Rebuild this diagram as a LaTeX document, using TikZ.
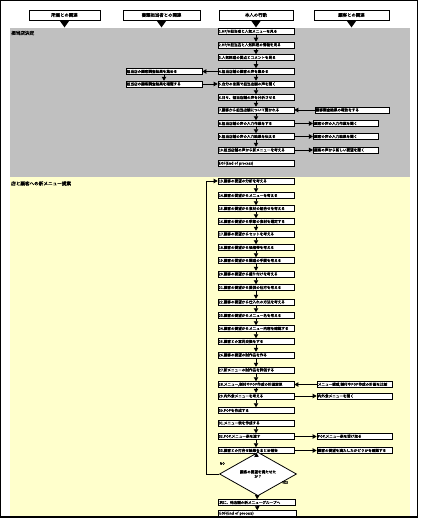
\documentclass[tikz,border=0pt]{standalone}
\usepackage{fontspec}
\newfontfamily\jp{Noto Sans CJK JP}
\newfontfamily\jpb[FakeBold=1.5]{Noto Sans CJK JP}
\usetikzlibrary{arrows.meta,shapes.geometric}
\definecolor{greyc}{RGB}{192,192,192}
\definecolor{yel}{RGB}{255,255,204}
\begin{document}
\begin{tikzpicture}[x=1pt,y=-1pt,
  bx/.style={draw,line width=0.7pt,fill=white,minimum height=5.8pt,inner xsep=0.8pt,inner ysep=0.3pt,
    font=\jpb\fontsize{3.6}{3.9}\selectfont,text width=#1,align=left},
  mbox/.style={bx=74.4pt},
  hbox/.style={draw,line width=0.8pt,fill=white,minimum height=10pt,minimum width=#1,inner sep=0.5pt,
    font=\jpb\fontsize{4.4}{5}\selectfont},
  arr/.style={-{Triangle[length=4pt,width=4.4pt]},line width=0.8pt},
  lbl/.style={anchor=west,inner sep=0pt,font=\jpb\fontsize{4.6}{5}\selectfont},
  small/.style={inner sep=0pt,font=\jpb\fontsize{3.4}{4}\selectfont}]
\useasboundingbox (0,0) rectangle (420,527);
\fill[white] (0,0) rectangle (420,527);
% backgrounds
\fill[greyc] (10,28) rectangle (410,177);
\fill[yel] (10,177) rectangle (410,516.5);
\draw[line width=1.2pt] (0.6,0.6) rectangle (417.5,517);
% headers
\node[hbox=71pt] (h1) at (64.5,15) {所属との関連};
\node[hbox=77pt] (h2) at (161.5,15) {書類担当者との関連};
\node[hbox=74pt] (h3) at (256,15) {本人の行動};
\node[hbox=75pt] (h4) at (351.5,15) {顧客との関連};
\foreach \h in {h1,h2,h3,h4}
  \fill (\h.south) ++(-5,0) -- ++(10,0) -- ++(-5,7) -- cycle;
% section labels
\node[lbl] (s1) at (11,33) {担当店決定};
\node[lbl] (s2) at (11,183.5) {店と顧客への新メニュー提案};
% grey main column
\node[mbox] (g1) at (256,31.5) {1.HP/H担当者と人気メニューを見る};
\node[mbox] (g2) at (256,45) {2.HP/H担当店と人気料理の情報を見る};
\node[mbox] (g3) at (256,57.5) {3.人気料理の要点とコメントを見る};
\node[mbox] (g4) at (256,71.5) {4.担当店舗の顧客の声を集める};
\node[mbox] (g5) at (256,84) {5.自分の言葉で担当店舗の声を聞く};
\node[mbox] (g6) at (256,97.5) {6.日々、担当店舗の声を分析させる};
\node[mbox] (g7) at (256,110) {7.顧客から担当店舗について聞かれる};
\node[mbox] (g8) at (256,123.5) {8.担当店舗の声の入力作業をする};
\node[mbox] (g9) at (256,136.5) {9.担当店舗の声の入力結果を伝える};
\node[mbox] (g10) at (256,150) {10.担当店舗の声から新メニューを考える};
\node[mbox] (g11) at (256,163.5) {EOF(End of process)};
% grey side boxes
\node[mbox] (l1) at (164,71.5) {担当店の顧客調査結果を集める};
\node[mbox] (l2) at (164,84) {担当店の顧客調査結果を確認する};
\node[bx=72.4pt] (r1) at (352,110) {顧客調査結果の報告をする};
\node[bx=63.4pt] (r2) at (345.8,123.5) {顧客の声の入力作業を聞く};
\node[bx=63.4pt] (r3) at (345.8,136.5) {顧客の声の入力結果を聞く};
\node[bx=63.4pt] (r4) at (345.8,150) {顧客の声から新しい要望を聞く};
% yellow main column
\node[mbox] (y13) at (256,181) {13.顧客の要望の分析を考える};
\node[mbox] (y14) at (256,195.5) {14.顧客の要望からメニューを考える};
\node[mbox] (y15) at (256,208.5) {15.顧客の要望から食材の組合せを考える};
\node[mbox] (y16) at (256,221.5) {16.顧客の要望から季節の食材を選定する};
\node[mbox] (y17) at (256,234) {17.顧客の要望からセットを考える};
\node[mbox] (y18) at (256,247.5) {18.顧客の要望から価格帯を考える};
\node[mbox] (y19) at (256,260.5) {19.顧客の要望から調理の手間を考える};
\node[mbox] (y20) at (256,274) {20.顧客の要望から盛り付けを考える};
\node[mbox] (y21) at (256,287.5) {21.顧客の要望から提供の仕方を考える};
\node[mbox] (y22) at (256,302) {22.顧客の要望から仕入れの方法を考える};
\node[mbox] (y23) at (256,315.5) {23.顧客の要望からメニュー名を考える};
\node[mbox] (y24) at (256,328.5) {24.顧客の要望からメニュー内容を確認する};
\node[mbox] (y25) at (256,341.5) {25.顧客との意見交換をする};
\node[mbox] (y26) at (256,355) {26.顧客の要望の試作品を作る};
\node[mbox] (y27) at (256,370) {27.新メニューの試作品を評価する};
\node[mbox] (y28) at (256,384.5) {28.メニュー,割付やPOP作成の計画変更};
\node[mbox] (y29) at (256,396) {29.内外食メニューを考える};
\node[mbox] (y30) at (256,410.5) {30.POPを作成する};
\node[mbox] (y31) at (256,423) {31.メニュー表を作成する};
\node[mbox] (y32) at (256,436.5) {32.POP,メニュー表を渡す};
\node[mbox] (y33) at (256,450.5) {33.顧客との打合せ結果をまとめ報告};
\node[draw,line width=0.8pt,fill=white,shape=diamond,minimum width=77pt,minimum height=22pt,inner sep=0pt,
  align=center,font=\jpb\fontsize{3.6}{4.4}\selectfont] (d) at (258,474) {顧客の要望を満たせた\\か？};
\node[bx=75.4pt] (y34) at (257,502.5) {次に、他店舗の新メニューグループへ};
\node[bx=76.4pt] (y35) at (257.5,513.5) {EOF(End of process)};
% yellow side boxes
\node[bx=73.4pt] (r5) at (354.5,384.5) {メニュー構成,割付やPOP作成の計画を比較};
\node[bx=73.4pt] (r6) at (354.5,396) {内外食メニューを聞く};
\node[bx=73.4pt] (r7) at (354.5,436.5) {POP,メニュー表を受け取る};
\node[bx=73.4pt] (r8) at (354.5,450.5) {顧客の要望を満たしたかどうかを確認する};
\node[small,anchor=south east] (no) at (225,465) {NO};
\node[small,anchor=north west] (yes) at (282,481) {YES};
% vertical arrows
\foreach \a/\b in {g1/g2,g2/g3,g3/g4,g4/g5,g5/g6,g6/g7,g7/g8,g8/g9,g9/g10,l1/l2,
  y13/y14,y14/y15,y15/y16,y16/y17,y17/y18,y18/y19,y19/y20,y20/y21,y21/y22,y22/y23,
  y23/y24,y24/y25,y25/y26,y26/y27,y27/y28,y28/y29,y29/y30,y31/y32,y32/y33,y33/d,d/y34,y34/y35}
  \draw[arr] (\a) -- (\b);
% horizontal arrows
\draw[arr] (g4.west) -- (l1.east);
\draw[arr] (l2.east) -- (g5.west);
\draw[arr] (r1.west) -- (g7.east);
\draw[arr] (g8.east) -- (r2.west);
\draw[arr] (g9.east) -- (r3.west);
\draw[arr] (g10.east) -- (r4.west);
\draw[arr] (r5.west) -- (y28.east);
\draw[arr] (y29.east) -- (r6.west);
\draw[arr] (y32.east) -- (r7.west);
\draw[arr] (y33.east) -- (r8.west);
% loop back
\coordinate (lp) at (206,474);
\draw[arr] (d.west) -- (lp) |- (y13.west);
\end{tikzpicture}
\end{document}
